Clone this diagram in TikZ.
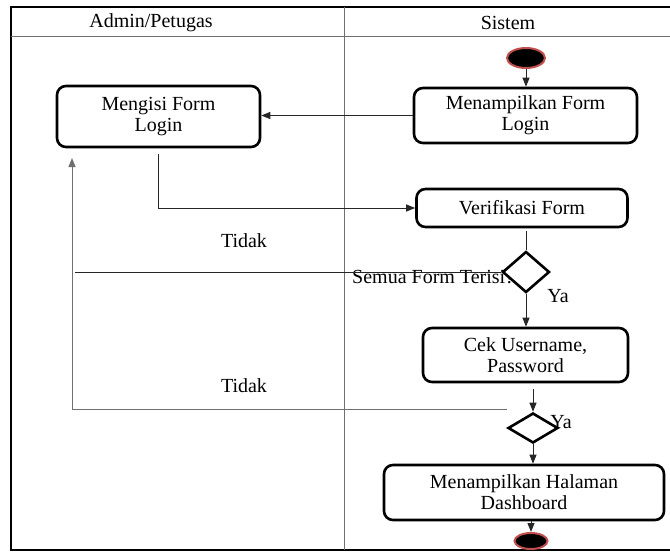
\documentclass[tikz,border=0pt]{standalone}
\usepackage{fontspec}
\setmainfont{Liberation Serif}
\usetikzlibrary{arrows.meta,shapes.geometric,positioning}
\definecolor{LaneGray}{HTML}{707070}
\definecolor{DotRed}{HTML}{c0504d}

\begin{document}
\begin{tikzpicture}[x=1pt, y=-1pt,
    act/.style={draw, rounded corners=9pt, line width=2.6pt, fill=white,
                align=center, inner sep=0pt, font=\fontsize{20}{21}\selectfont},
    choice/.style={draw, diamond, line width=2.6pt, fill=white, inner sep=0pt},
    startdot/.style={ellipse, fill=black, draw=DotRed, line width=2pt, inner sep=0pt},
    lbl/.style={inner sep=0pt, font=\fontsize{20}{21}\selectfont},
    flow/.style={-{Triangle[length=9pt,width=7pt]}, line width=1pt, draw=black!85},
    link/.style={line width=1pt, draw=black!85},
  ]
    \useasboundingbox (0,0) rectangle (670,552);
    % Swimlanes
    \draw[line width=2.8pt] (670,7) -- (11,7) -- (11,550) -- (670,550);
    \draw[LaneGray, line width=1pt] (11,36) -- (670,36);
    \draw[LaneGray, line width=1pt] (344,7) -- (344,550);
    \node[lbl] (laneA) at (151,23) {Admin/Petugas};
    \node[lbl] (laneB) at (508,23) {Sistem};
    % Labels
    \node[lbl] (tidak1) at (244,241) {Tidak};
    \node[lbl] (tidak2) at (244,386) {Tidak};
    \node[lbl, anchor=west] (ask) at (352,277) {Semua Form Terisi?};
    \node[lbl] (ya1) at (558,296) {Ya};
    \node[lbl] (ya2) at (561,422) {Ya};
    % Activities
    \node[startdot, minimum width=38pt, minimum height=20pt] (dot0) at (526,58) {};
    \node[act, minimum width=223pt, minimum height=55pt] (tampil) at (525.5,115.5) {Menampilkan Form\\Login};
    \node[act, minimum width=203pt, minimum height=61pt] (login) at (158.5,116.5) {Mengisi Form\\Login};
    \node[act, minimum width=211pt, minimum height=38pt] (verif) at (522,208) {Verifikasi Form};
    \node[choice, minimum width=47pt, minimum height=41pt] (dec1) at (526,272) {};
    \node[act, minimum width=205pt, minimum height=54pt] (cek) at (525.5,355) {Cek Username,\\Password};
    \node[choice, minimum width=50pt, minimum height=30pt] (dec2) at (533,428) {};
    \node[act, minimum width=280pt, minimum height=55pt] (dash) at (524,492.5) {Menampilkan Halaman\\Dashboard};
    \node[startdot, minimum width=33pt, minimum height=16pt] (dot1) at (531,541) {};
    % Return points
    \coordinate (no1) at (75,272);
    \coordinate (no2) at (507,409);
    \coordinate (back) at (72,158);
    % Connectors
    \draw[flow] (dot0.south) -- (dot0.south |- tampil.north);
    \draw[flow] (tampil.west) -- (tampil.west -| login.east);
    \draw[flow] ([yshift=-6pt]login.south) |- (verif.west);
    \draw[link] ([yshift=-3pt]dec1.north |- verif.south) -- (dec1.north);
    \draw[flow] (dec1.south) -- (dec1.south |- cek.north);
    \draw[link] (dec1.west) -- (no1);
    \draw[flow, draw=LaneGray] (no2) -| (back);
    \draw[flow] ([yshift=-6pt]dec2.north |- cek.south) -- (dec2.north);
    \draw[flow] (dec2.south) -- (dec2.south |- dash.north);
    \draw[flow] (dot1.north |- dash.south) -- (dot1.north);
  \end{tikzpicture}
\end{document}
